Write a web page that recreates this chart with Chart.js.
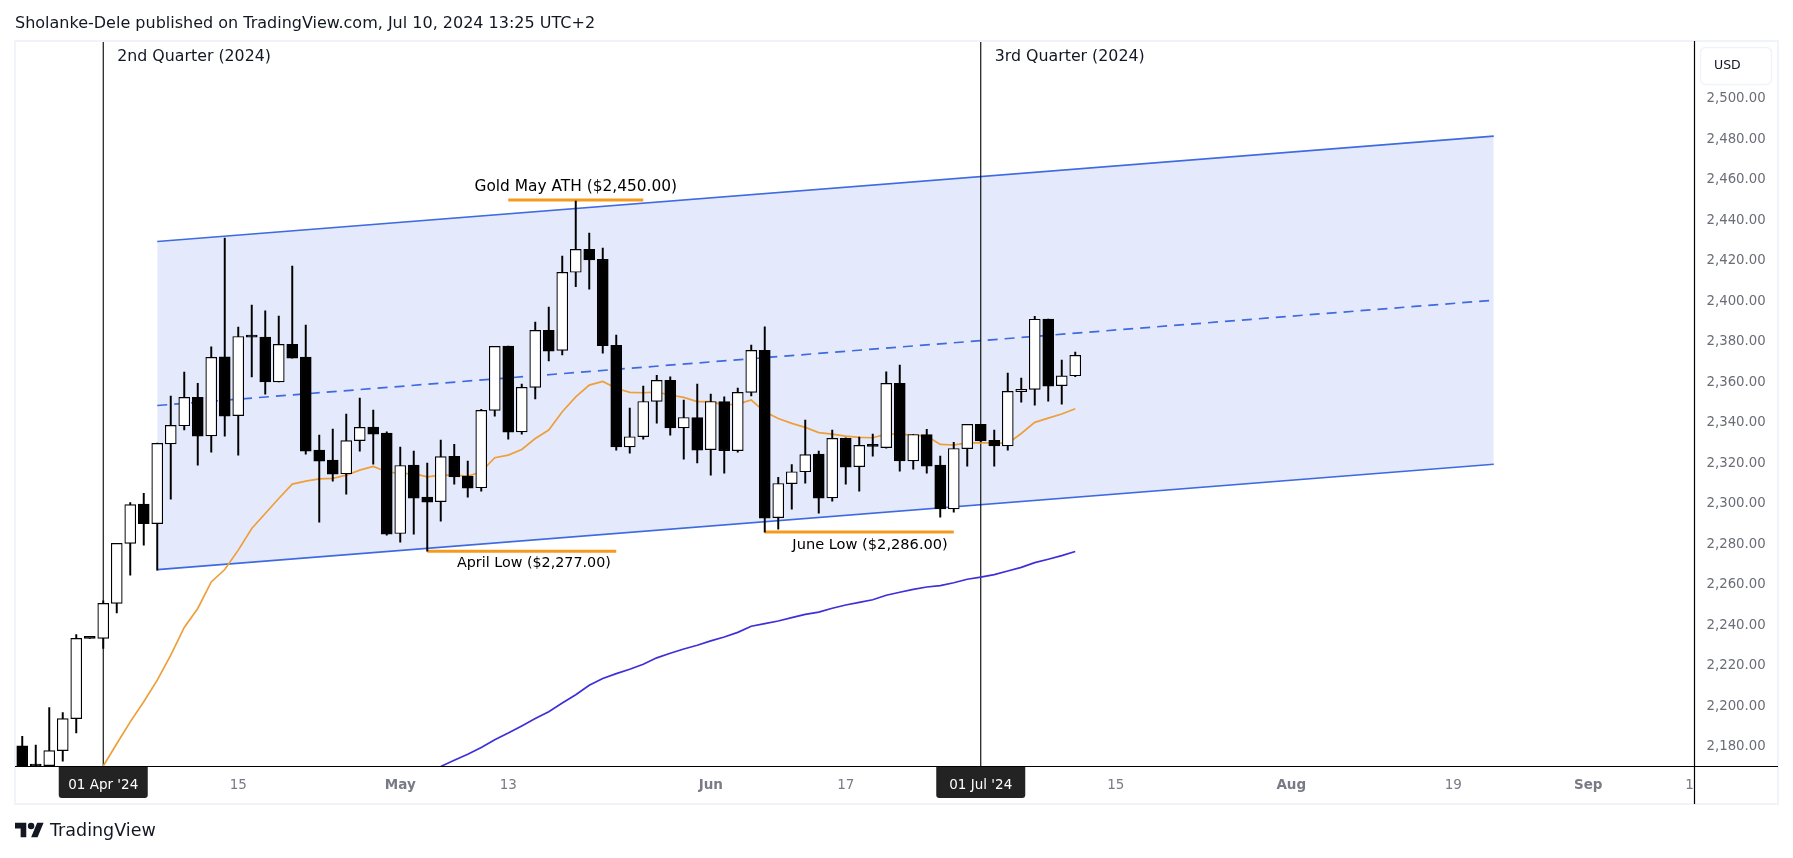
<!DOCTYPE html>
<html>
<head>
<meta charset="utf-8">
<title>Gold daily chart</title>
<script src="https://cdn.jsdelivr.net/npm/chart.js@4"></script>
<style>
  html, body { margin:0; padding:0; background:#fff; width:1793px; height:858px; overflow:hidden; }
  #wrap { position:relative; width:1793px; height:858px; }
  canvas { position:absolute; left:0; top:0; }
  .head { position:absolute; left:15px; top:13px; font:16px 'DejaVu Sans', sans-serif; color:#131722; white-space:nowrap; }
  .brand { position:absolute; left:15px; top:821px; display:flex; align-items:center; }
  .brand span { font:17.5px 'DejaVu Sans', sans-serif; color:#131722; margin-left:6px; line-height:18px; }
</style>
</head>
<body>
<div id="wrap">
  <canvas id="chart" width="1793" height="858"></canvas>
  <div class="head">Sholanke-Dele published on TradingView.com, Jul 10, 2024 13:25 UTC+2</div>
  <div class="brand">
    <svg width="29" height="18" viewBox="0 2 36 22"><path d="M14 22H7V11H0V4h14v18zM28 22h-8l7.5-18h8L28 22z" fill="#131722"/><circle cx="20" cy="8" r="4" fill="#131722"/></svg>
    <span>TradingView</span>
  </div>
</div>
<script>
// daily candles, bar 0 = 26 Mar 2024, weekdays only
const opens  = [2180,2170.4,2170.2,2177.6,2193.4,2233,2233,2250.3,2279.9,2299.3,2289.7,2329.1,2338,2352,2333,2372,2343,2381.8,2381.8,2359.7,2378.2,2371.9,2326,2321,2314.3,2330.7,2337.3,2334.4,2284.8,2318.6,2302.8,2300.5,2322.9,2313.1,2307.4,2345.6,2377.4,2335,2357,2385.1,2375.2,2413.8,2425.1,2420.2,2377.7,2327.6,2332.6,2350,2360.4,2337,2342.1,2326.2,2350,2325.7,2354.5,2375.2,2292.6,2309.4,2315.3,2324,2302.4,2331.8,2317.8,2327.8,2327.2,2358.9,2320.7,2333.7,2318.6,2297,2326.7,2338.7,2330.8,2328.1,2354.8,2356,2390.7,2357.8,2362.7];
const highs  = [2184.7,2180.3,2198.9,2196.4,2234.9,2233,2251.5,2280,2300.1,2304.6,2329.5,2352.7,2364.5,2359,2377,2430.7,2386.7,2397.6,2394.7,2392.2,2416.9,2387.7,2333.4,2336.4,2343.8,2351.7,2345.7,2335,2327.5,2325.5,2319.6,2330.9,2328.9,2320.6,2346.1,2377.2,2377.4,2358.6,2389.2,2396.6,2421.8,2449,2433.2,2425.8,2382.8,2346.7,2357.6,2362.9,2362.2,2350.7,2358.6,2353.7,2352.3,2356.6,2377.9,2386.9,2312.5,2318.9,2340.8,2325.5,2335.9,2332,2332.4,2333.9,2364.7,2368,2333.7,2336.2,2323,2329.8,2338.7,2338.7,2335.9,2364,2361.6,2392,2390.7,2370.5,2374.4];
const lows   = [2160,2165,2170,2172.4,2186.3,2233,2228,2245.6,2264.2,2279,2266.7,2301.8,2335.9,2318.6,2325,2332.9,2323.5,2362.1,2353.6,2359.7,2371.4,2324,2290.4,2310.7,2304.2,2325.5,2319.1,2284,2280.5,2284.5,2276.1,2290.9,2309.2,2302.8,2305.7,2342.8,2331.4,2333.9,2351.2,2370,2373,2406.7,2405.5,2373.9,2326,2324.5,2331.4,2339.3,2333.4,2321.5,2319.6,2313.6,2314.6,2325,2352.7,2285.5,2287,2296.8,2309.7,2294.9,2300.8,2309.2,2305.7,2323,2327,2315.6,2316.6,2314.6,2292.9,2295.4,2318.1,2330,2318.1,2326,2349.7,2348.2,2350.2,2348.7,2362.2];
const closes = [2165,2170,2177.6,2193.4,2233,2233,2250.3,2279.9,2299.1,2289.6,2329.3,2338.2,2352,2332.9,2371.8,2342.8,2382.1,2381.8,2359.6,2378.2,2371.4,2325.5,2320.5,2314.1,2330.7,2337.2,2333.9,2284.5,2318.4,2302.3,2300.3,2322.8,2312.8,2307.2,2345.6,2377.2,2334.9,2357,2385.1,2374.9,2413.8,2425.1,2419.9,2377.5,2327.5,2332.6,2350,2360.4,2336.9,2342.1,2326,2350,2325.7,2354.5,2375.2,2292.4,2309.5,2315.3,2323.8,2302.3,2331.8,2317.6,2328.3,2327.8,2358.9,2320.6,2333.7,2318.1,2296.9,2326.8,2338.7,2330.5,2328.1,2355,2356,2390.6,2357.6,2362.7,2372.8];

// moving averages, first value sits on the bar given by *Start
const fastStart = 6;
const fastMa = [2170,2181,2191.8,2201.7,2212.4,2224.7,2238.4,2247.8,2260.9,2267,2276.6,2287.3,2294.7,2302.1,2309.2,2310.7,2311.8,2312,2313.6,2316.1,2317.9,2315.3,2314.4,2314.4,2312.8,2313.6,2313.6,2313.1,2315.3,2322.2,2323.5,2326.3,2331.7,2335.9,2344.9,2352.3,2358.1,2359.9,2356.5,2354.5,2354.3,2354.6,2353.2,2352,2349.9,2349.9,2348.2,2348.7,2350.7,2344.9,2341.6,2339.2,2337.2,2334.6,2333.9,2332.9,2332.3,2332.1,2333.9,2333.9,2333.4,2332.9,2328.8,2328.5,2329.6,2329.6,2329.6,2329.3,2334.2,2339.7,2341.8,2343.8,2346.4];
const slowStart = 31;
const slowMa = [2169.8,2172.8,2175.8,2179.1,2183,2186.3,2189.8,2193.4,2196.8,2201.1,2205.2,2209.9,2213.2,2215.6,2217.8,2220.2,2223.4,2225.7,2227.8,2229.6,2231.8,2233.7,2236,2239,2240.3,2241.6,2243.3,2244.9,2246,2247.9,2249.5,2250.8,2252.1,2254.3,2255.8,2257.2,2258.4,2259.1,2260.5,2262.2,2263.3,2264.5,2266.3,2268.1,2270.4,2272.1,2273.9,2275.9];

// channel drawing
const channelBars = [10,109];
const channelUpper = [2429,2481];
const channelMid = [2348,2400];
const channelLower = [2267,2319];

// quarter separators
const quarterBars = [6,71];
const quarterLabels = ['2nd Quarter (2024)','3rd Quarter (2024)'];

// highlighted levels
const levelFrom = [36,30,55];
const levelTo = [46,44,69];
const levelPrice = [2449.5,2276,2285.5];
const levelLabels = ['Gold May ATH ($2,450.00)','April Low ($2,277.00)','June Low ($2,286.00)'];
const levelLabelBar = [41,37.9,62.8];
const levelLabelPrice = [2455.7,2270,2279.2];

// axes
const priceTicks = [2500,2480,2460,2440,2420,2400,2380,2360,2340,2320,2300,2280,2260,2240,2220,2200,2180];
const timeTickBars = [6,16,28,36,51,61,71,81,94,106,116,123.5];
const timeTickLabels = ["01 Apr '24",'15','May','13','Jun','17',"01 Jul '24",'15','Aug','19','Sep','1'];
const boldTicks = ['May','Jun','Aug','Sep'];

const BODY_FONT = "'DejaVu Sans', sans-serif";
const LEVEL_FONT_SIZES = [15.4,14.3,14.6];

function twoPoints(xs, ys){ return xs.map((x,i)=>({x, y:ys[i]})); }
function series(start, vals){ return vals.map((y,i)=>({x:start+i, y})); }

const lineBase = {type:'line', pointRadius:0, tension:0, fill:false};

const datasets = [
  {type:'bar', label:'bodies', data:opens.map((o,i)=>({x:i, y:[o,closes[i]]})), order:1, barThickness:11, minBarLength:2, borderWidth:1.2, borderSkipped:false,
    borderColor:'#000', backgroundColor:c=>closes[c.dataIndex]>opens[c.dataIndex]?'#fff':'#000'},
  {type:'bar', label:'wicks', data:lows.map((l,i)=>({x:i, y:[l,highs[i]]})), order:2, barThickness:1.3, backgroundColor:'#000', borderWidth:0},
];
levelPrice.forEach((p,i)=>{
  datasets.push({...lineBase, label:'level'+i, data:twoPoints([levelFrom[i],levelTo[i]],[p,p]), borderColor:'#f59a1f', borderWidth:3, order:3});
});
datasets.push({...lineBase, label:'fast', data:series(fastStart,fastMa), borderColor:'#ee9f3a', borderWidth:1.7, order:4});
datasets.push({...lineBase, label:'slow', data:series(slowStart,slowMa), borderColor:'#3f2fd8', borderWidth:1.7, order:4});
quarterBars.forEach((b,i)=>{
  datasets.push({...lineBase, label:'q'+i, data:twoPoints([b,b],[2170,2528]), borderColor:'#000', borderWidth:1.1, order:5});
});
datasets.push({...lineBase, label:'upper', data:twoPoints(channelBars,channelUpper), borderColor:'#3f6ae0', borderWidth:1.7, order:6, fill:'+2', backgroundColor:'rgba(66,103,230,0.14)'});
datasets.push({...lineBase, label:'mid', data:twoPoints(channelBars,channelMid), borderColor:'#3f6ae0', borderWidth:1.7, borderDash:[10,7], order:6});
datasets.push({...lineBase, label:'lower', data:twoPoints(channelBars,channelLower), borderColor:'#3f6ae0', borderWidth:1.7, order:6});

// frame, time tags, USD box and the drawing texts
const decorations = {
  id:'decorations',
  beforeDraw(chart){
    const {ctx, scales:{x}} = chart;
    ctx.save();
    ctx.fillStyle = '#232323';
    quarterBars.forEach(b=>{
      const px = x.getPixelForValue(b);
      ctx.beginPath();
      ctx.roundRect(px-44.5, 766, 89, 32, [0,0,3,3]);
      ctx.fill();
    });
    ctx.restore();
  },
  afterDraw(chart){
    const {ctx, scales:{x,y}} = chart;
    ctx.save();
    ctx.strokeStyle = '#f0f3fa'; ctx.lineWidth = 2;
    ctx.strokeRect(15, 41, 1763, 763);
    ctx.strokeStyle = '#000'; ctx.lineWidth = 1.2;
    ctx.beginPath();
    ctx.moveTo(15, 766.5); ctx.lineTo(1778, 766.5);
    ctx.moveTo(1694.5, 41); ctx.lineTo(1694.5, 804);
    ctx.stroke();

    ctx.fillStyle = '#fff'; ctx.strokeStyle = '#f0f3fa'; ctx.lineWidth = 1.5;
    ctx.beginPath(); ctx.roundRect(1700.5, 47.5, 71, 37, 5); ctx.fill(); ctx.stroke();
    ctx.fillStyle = '#131722'; ctx.font = '12.5px '+BODY_FONT; ctx.textAlign = 'left'; ctx.textBaseline = 'middle';
    ctx.fillText('USD', 1714, 66);

    ctx.font = '15.8px '+BODY_FONT;
    quarterLabels.forEach((t,i)=>ctx.fillText(t, x.getPixelForValue(quarterBars[i])+14, 57));
    ctx.textAlign = 'center'; ctx.fillStyle = '#000';
    levelLabels.forEach((t,i)=>{
      ctx.font = LEVEL_FONT_SIZES[i]+'px '+BODY_FONT;
      ctx.fillText(t, x.getPixelForValue(levelLabelBar[i]), y.getPixelForValue(levelLabelPrice[i]));
    });
    ctx.restore();
  }
};

function isTag(c){ return !!c.tick && quarterBars.includes(c.tick.value); }
function isBold(c){ return !!c.tick && boldTicks.includes(timeTickLabels[timeTickBars.indexOf(c.tick.value)]); }

new Chart(document.getElementById('chart').getContext('2d'), {
  type:'bar',
  data:{datasets},
  options:{
    responsive:false,
    animation:false,
    devicePixelRatio:1,
    layout:{padding:{left:15.5,right:15,top:41,bottom:54}},
    plugins:{legend:{display:false},tooltip:{enabled:false}},
    datasets:{bar:{grouped:false}},
    scales:{
      x:{
        type:'linear', offset:false, min:-0.5, max:123.87,
        grid:{display:false, drawTicks:false}, border:{display:false},
        afterBuildTicks:s=>{ s.ticks = timeTickBars.map(v=>({value:v})); },
        afterFit:s=>{ s.height = 38; },
        ticks:{
          autoSkip:false, maxRotation:0, minRotation:0, padding:11,
          callback:v=>timeTickLabels[timeTickBars.indexOf(v)],
          color:c=>isTag(c)?'#fff':'#787b86',
          font:c=>({family:BODY_FONT, size:13.5, weight:isBold(c)?'bold':'normal'})
        }
      },
      y:{
        position:'right', min:2170, max:2528,
        grid:{display:false, drawTicks:false}, border:{display:false},
        afterBuildTicks:s=>{ s.ticks = priceTicks.map(v=>({value:v})); },
        afterFit:s=>{ s.width = 83.5; },
        ticks:{
          autoSkip:false, padding:12, labelOffset:1, color:'#6a6d78',
          font:{family:BODY_FONT,size:13.3},
          callback:v=>v.toLocaleString('en-US',{minimumFractionDigits:2,maximumFractionDigits:2})
        }
      }
    }
  },
  plugins:[decorations]
});
</script>
</body>
</html>
